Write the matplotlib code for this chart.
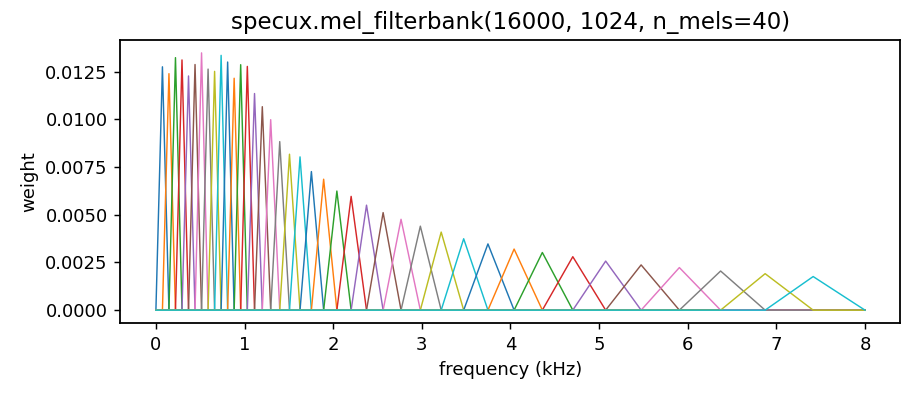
import matplotlib
matplotlib.use('Agg')
import matplotlib.pyplot as plt

# filter edge / centre frequencies in kHz (42 points -> 40 triangular filters)
edges_khz = [0.0, 0.0736, 0.1471, 0.2207, 0.2943, 0.3679, 0.4414, 0.5150,
             0.5886, 0.6621, 0.7357, 0.8093, 0.8828, 0.9564, 1.0314, 1.1127,
             1.2004, 1.2950, 1.3971, 1.5072, 1.6260, 1.7542, 1.8925, 2.0417,
             2.2026, 2.3762, 2.5635, 2.7656, 2.9835, 3.2187, 3.4724, 3.7461,
             4.0414, 4.3599, 4.7036, 5.0743, 5.4743, 5.9058, 6.3713, 6.8735,
             7.4153, 8.0]

# peak weight of each filter
peaks = [0.01275, 0.01239, 0.01323, 0.01311, 0.01227, 0.01287, 0.01348, 0.01263,
         0.01251, 0.01335, 0.01300, 0.01215, 0.01286, 0.01277, 0.01135, 0.01066,
         0.00998, 0.00883, 0.00817, 0.00803, 0.00726, 0.00686, 0.00624, 0.00596,
         0.00550, 0.00511, 0.00476, 0.00440, 0.00409, 0.00374, 0.00347, 0.00320,
         0.00302, 0.00280, 0.00257, 0.00237, 0.00223, 0.00205, 0.00191, 0.00176]

f_min, f_max = edges_khz[0], edges_khz[-1]

plt.rcParams['axes.linewidth'] = 1.0

dpi = 130
fig = plt.figure(figsize=(916 / dpi, 397 / dpi), dpi=dpi)
ax = fig.add_axes([0.1315, 0.1864, 0.8515, 0.7128])

for i, p in enumerate(peaks):
    lo, c, hi = edges_khz[i], edges_khz[i + 1], edges_khz[i + 2]
    ax.plot([f_min, lo, c, hi, f_max], [0, 0, p, 0, 0], lw=0.8)

ax.set_title('specux.mel_filterbank(16000, 1024, n_mels=40)', fontsize=12.7)
ax.set_xlabel('frequency (kHz)')
ax.set_ylabel('weight')

fig.savefig('out.png', dpi=dpi)
